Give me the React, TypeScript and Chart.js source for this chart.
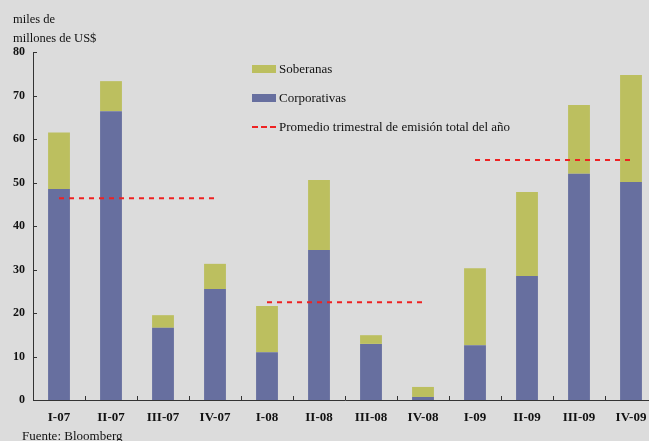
import React, { useEffect, useRef } from "react";
import { Chart, registerables } from "chart.js";

Chart.register(...registerables);

const categories = ["I-07", "II-07", "III-07", "IV-07", "I-08", "II-08", "III-08", "IV-08", "I-09", "II-09", "III-09", "IV-09"];
const corporativas = [48.5, 66.4, 16.6, 25.5, 11.0, 34.5, 12.9, 0.7, 12.6, 28.5, 52.0, 50.1];
const soberanas = [13.0, 6.9, 2.9, 5.8, 10.6, 16.1, 2.0, 2.3, 17.7, 19.3, 15.8, 24.6];
const promedio2007 = [46.4, 46.4, 46.4, 46.4, null, null, null, null, null, null, null, null];
const promedio2008 = [null, null, null, null, 22.5, 22.5, 22.5, 22.5, null, null, null, null];
const promedio2009 = [null, null, null, null, null, null, null, null, 55.2, 55.2, 55.2, 55.2];
const yTicks = [0, 10, 20, 30, 40, 50, 60, 70, 80];

const SERIF = "'Liberation Serif', 'DejaVu Serif', serif";
const BG = "#dcdcdc";
const SOB = "#bcbf5f";
const CORP = "#676f9f";
const RED = "#ee2222";

const tickPlugin = {
  id: "tickMarks",
  afterDraw(chart: any) {
    const ctx = chart.ctx;
    const x = chart.scales.x;
    const y = chart.scales.y;
    const area = chart.chartArea;
    ctx.save();
    ctx.strokeStyle = "#333";
    ctx.lineWidth = 1;
    ctx.beginPath();
    for (const t of yTicks) {
      const py = Math.round(y.getPixelForValue(t)) + 0.5;
      ctx.moveTo(area.left, py);
      ctx.lineTo(area.left + 4, py);
    }
    for (let i = 1; i < categories.length; i++) {
      const px = Math.round((x.getPixelForValue(i - 1) + x.getPixelForValue(i)) / 2) + 0.5;
      ctx.moveTo(px, area.bottom);
      ctx.lineTo(px, area.bottom - 4);
    }
    ctx.stroke();
    ctx.restore();
  },
};

export default function App() {
  const ref = useRef<HTMLCanvasElement | null>(null);
  useEffect(() => {
    if (!ref.current) return;
    const lineDs = (data: (number | null)[]) => ({
      type: "line" as const,
      data,
      borderColor: RED,
      borderWidth: 2,
      borderDash: [5, 5],
      pointRadius: 0,
      fill: false,
      spanGaps: false,
      order: 0,
    });
    const chart = new Chart(ref.current, {
      type: "bar",
      data: {
        labels: categories,
        datasets: [
          { label: "Corporativas", data: corporativas, backgroundColor: CORP, stack: "s", barPercentage: 0.42, categoryPercentage: 1, order: 1 },
          { label: "Soberanas", data: soberanas, backgroundColor: SOB, stack: "s", barPercentage: 0.42, categoryPercentage: 1, order: 1 },
          lineDs(promedio2007) as any,
          lineDs(promedio2008) as any,
          lineDs(promedio2009) as any,
        ],
      },
      options: {
        animation: false,
        responsive: false,
        maintainAspectRatio: false,
        layout: { padding: { top: 52, right: 8, left: 0, bottom: 0 } },
        plugins: { legend: { display: false }, tooltip: { enabled: false }, title: { display: false } },
        scales: {
          x: {
            stacked: true,
            grid: { display: false, drawTicks: false },
            border: { display: true, color: "#333", width: 1 },
            ticks: { color: "#111", font: { family: SERIF, size: 13, weight: "bold" }, padding: 10, maxRotation: 0, autoSkip: false },
            afterFit: (s: any) => { s.height = 41; },
          },
          y: {
            stacked: true,
            min: 0,
            max: 80,
            afterBuildTicks: (s: any) => { s.ticks = yTicks.map((v) => ({ value: v })); },
            grid: { display: false, drawTicks: false },
            border: { display: true, color: "#333", width: 1 },
            ticks: { color: "#111", font: { family: SERIF, size: 12, weight: "bold" }, padding: 8 },
            afterFit: (s: any) => { s.width = 33; },
          },
        },
      },
      plugins: [tickPlugin],
    });
    return () => chart.destroy();
  }, []);

  const legendRow = (top: number, swatch: React.ReactNode, text: string) => (
    <div style={{ position: "absolute", left: 252, top, display: "flex", alignItems: "center", fontFamily: SERIF, fontSize: 13, color: "#111", whiteSpace: "nowrap" }}>
      <div style={{ width: 24, display: "flex", justifyContent: "flex-start" }}>{swatch}</div>
      <span style={{ marginLeft: 3 }}>{text}</span>
    </div>
  );

  return (
    <div style={{ position: "fixed", left: 0, top: 0, width: 649, height: 441, overflow: "hidden", background: BG }}>
      <canvas ref={ref} width={665} height={441} style={{ position: "absolute", left: 0, top: 0, width: 665, height: 441 }} />
      <div style={{ position: "absolute", left: 13, top: 10, fontFamily: SERIF, fontSize: 12.5, color: "#111", lineHeight: "19px" }}>
        miles de<br />millones de US$
      </div>
      {legendRow(61, <div style={{ width: 24, height: 8, background: SOB }} />, "Soberanas")}
      {legendRow(90, <div style={{ width: 24, height: 8, background: CORP }} />, "Corporativas")}
      {legendRow(119, <div style={{ width: 24, height: 0, borderTop: `2px dashed ${RED}` }} />, "Promedio trimestral de emisión total del año")}
      <div style={{ position: "absolute", left: 22, top: 428, fontFamily: SERIF, fontSize: 13, color: "#111" }}>Fuente: Bloomberg</div>
    </div>
  );
}
